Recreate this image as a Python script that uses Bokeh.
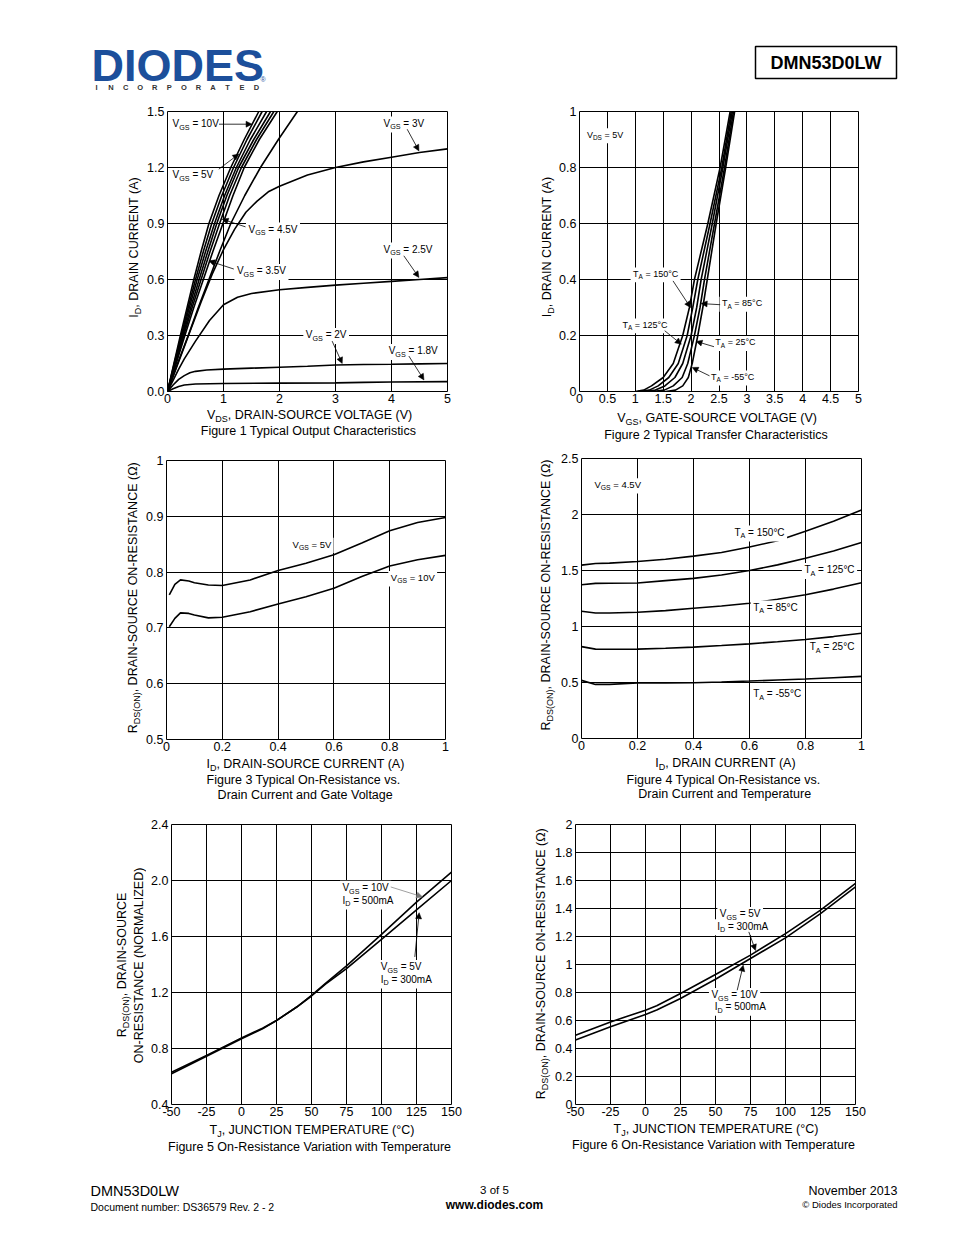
import math
from bokeh.plotting import figure
from bokeh.models import Range1d, FixedTicker, Label, Arrow, NormalHead, BoxAnnotation, Spacer
from bokeh.layouts import column, row
from bokeh.embed import file_html
from bokeh.resources import INLINE

FONT = "Liberation Sans"
BLUE = "#1c4f9b"

# ---------------- Figure 1: output characteristics (ID vs VDS) ----------------
f1_i_levels = [0, 0.15, 0.3, 0.45, 0.6, 0.75, 0.9, 1.05, 1.2, 1.35, 1.5]
f1_v_vgs10 = [0, 0.115, 0.23, 0.35, 0.47, 0.60, 0.74, 0.92, 1.13, 1.37, 1.63]
f1_v_vgs8 = [0, 0.12, 0.245, 0.37, 0.50, 0.64, 0.79, 0.97, 1.18, 1.42, 1.69]
f1_v_vgs6 = [0, 0.13, 0.26, 0.39, 0.53, 0.68, 0.84, 1.02, 1.23, 1.48, 1.77]
f1_v_vgs5 = [0, 0.135, 0.275, 0.415, 0.565, 0.72, 0.88, 1.06, 1.27, 1.54, 1.84]
f1_v_vgs45 = [0, 0.145, 0.29, 0.44, 0.60, 0.76, 0.93, 1.11, 1.32, 1.59, 1.90]
f1_v_vgs4 = [0, 0.155, 0.31, 0.47, 0.64, 0.81, 0.99, 1.17, 1.37, 1.64, 1.96]
f1_v_vgs35 = [0, 0.18, 0.37, 0.55, 0.74, 0.93, 1.13, 1.38, 1.66, 1.98, 2.32]
f1_vds_3v = [0, 0.2, 0.4, 0.6, 0.8, 1.0, 1.2, 1.4, 1.6, 1.8, 2.0, 2.5, 3.0, 3.5, 4.0, 4.5, 5.0]
f1_id_3v = [0, 0.16, 0.32, 0.48, 0.63, 0.76, 0.87, 0.96, 1.02, 1.07, 1.10, 1.16, 1.20, 1.23, 1.255, 1.28, 1.30]
f1_vds_25v = [0, 0.1, 0.2, 0.3, 0.5, 0.75, 1.0, 1.25, 1.5, 2.0, 2.5, 3.0, 3.5, 4.0, 4.5, 5.0]
f1_id_25v = [0, 0.06, 0.12, 0.175, 0.27, 0.38, 0.465, 0.505, 0.525, 0.545, 0.558, 0.57, 0.58, 0.59, 0.60, 0.61]
f1_vds_2v = [0, 0.1, 0.2, 0.3, 0.4, 0.5, 0.7, 1.0, 1.5, 2.0, 2.5, 3.0, 3.5, 4.0, 4.5, 5.0]
f1_id_2v = [0, 0.035, 0.065, 0.085, 0.1, 0.108, 0.115, 0.12, 0.125, 0.13, 0.135, 0.142, 0.145, 0.146, 0.148, 0.15]
f1_vds_18v = [0, 0.1, 0.2, 0.3, 0.5, 1.0, 2.0, 3.0, 3.5, 4.0, 5.0]
f1_id_18v = [0, 0.015, 0.027, 0.035, 0.04, 0.043, 0.045, 0.046, 0.049, 0.051, 0.053]
f1_xticks = [0, 1, 2, 3, 4, 5]
f1_xlabels = ["0", "1", "2", "3", "4", "5"]
f1_yticks = [0, 0.3, 0.6, 0.9, 1.2, 1.5]
f1_ylabels = ["0.0", "0.3", "0.6", "0.9", "1.2", "1.5"]

# ---------------- Figure 2: transfer characteristics (ID vs VGS) ----------------
f2_i_levels = [0, 0.005, 0.02, 0.05, 0.1, 0.2, 0.3, 0.4, 0.6, 0.8, 1.0]
f2_v_150c = [1.0, 1.15, 1.29, 1.50, 1.68, 1.85, 1.97, 2.06, 2.30, 2.52, 2.70]
f2_v_125c = [1.05, 1.25, 1.41, 1.60, 1.77, 1.93, 2.03, 2.12, 2.34, 2.55, 2.72]
f2_v_85c = [1.15, 1.36, 1.53, 1.71, 1.85, 2.00, 2.10, 2.18, 2.38, 2.57, 2.74]
f2_v_25c = [1.30, 1.52, 1.68, 1.84, 1.94, 2.06, 2.16, 2.24, 2.42, 2.60, 2.76]
f2_v_m55c = [1.55, 1.72, 1.85, 1.95, 2.02, 2.12, 2.21, 2.29, 2.45, 2.62, 2.78]
f2_xticks = [0, 0.5, 1, 1.5, 2, 2.5, 3, 3.5, 4, 4.5, 5]
f2_xlabels = ["0", "0.5", "1", "1.5", "2", "2.5", "3", "3.5", "4", "4.5", "5"]
f2_yticks = [0, 0.2, 0.4, 0.6, 0.8, 1.0]
f2_ylabels = ["0", "0.2", "0.4", "0.6", "0.8", "1"]

# ---------------- Figure 3: RDS(ON) vs ID and VGS ----------------
f3_id = [0.01, 0.03, 0.05, 0.08, 0.1, 0.15, 0.2, 0.3, 0.4, 0.5, 0.6, 0.7, 0.8, 0.9, 1.0]
f3_r_vgs5 = [0.759, 0.778, 0.786, 0.784, 0.781, 0.777, 0.776, 0.786, 0.803, 0.816, 0.831, 0.852, 0.874, 0.889, 0.898]
f3_r_vgs10 = [0.702, 0.717, 0.727, 0.726, 0.723, 0.718, 0.719, 0.729, 0.743, 0.756, 0.771, 0.792, 0.811, 0.822, 0.830]
f3_xticks = [0, 0.2, 0.4, 0.6, 0.8, 1.0]
f3_xlabels = ["0", "0.2", "0.4", "0.6", "0.8", "1"]
f3_yticks = [0.5, 0.6, 0.7, 0.8, 0.9, 1.0]
f3_ylabels = ["0.5", "0.6", "0.7", "0.8", "0.9", "1"]

# ---------------- Figure 4: RDS(ON) vs ID and temperature ----------------
f4_id = [0, 0.05, 0.1, 0.2, 0.3, 0.4, 0.5, 0.6, 0.7, 0.8, 0.9, 1.0]
f4_r_150c = [1.548, 1.563, 1.566, 1.58, 1.60, 1.628, 1.66, 1.71, 1.765, 1.85, 1.94, 2.04]
f4_r_125c = [1.373, 1.385, 1.386, 1.388, 1.41, 1.43, 1.46, 1.50, 1.55, 1.61, 1.675, 1.75]
f4_r_85c = [1.136, 1.12, 1.12, 1.127, 1.142, 1.163, 1.183, 1.207, 1.243, 1.284, 1.334, 1.39]
f4_r_25c = [0.82, 0.798, 0.797, 0.798, 0.806, 0.816, 0.83, 0.845, 0.864, 0.884, 0.91, 0.94]
f4_r_m55c = [0.519, 0.483, 0.483, 0.495, 0.497, 0.498, 0.505, 0.513, 0.522, 0.531, 0.543, 0.555]
f4_xticks = [0, 0.2, 0.4, 0.6, 0.8, 1.0]
f4_xlabels = ["0", "0.2", "0.4", "0.6", "0.8", "1"]
f4_yticks = [0, 0.5, 1.0, 1.5, 2.0, 2.5]
f4_ylabels = ["0", "0.5", "1", "1.5", "2", "2.5"]

# ---------------- Figure 5: normalized RDS(ON) vs TJ ----------------
f5_tj = [-50, -25, 0, 15, 25, 40, 50, 60, 75, 100, 125, 150]
f5_r_vgs10 = [0.62, 0.745, 0.87, 0.94, 1.0, 1.1, 1.18, 1.265, 1.39, 1.615, 1.845, 2.06]
f5_r_vgs5 = [0.63, 0.75, 0.875, 0.945, 1.0, 1.1, 1.175, 1.26, 1.37, 1.58, 1.79, 2.0]
f5_xticks = [-50, -25, 0, 25, 50, 75, 100, 125, 150]
f5_xlabels = ["-50", "-25", "0", "25", "50", "75", "100", "125", "150"]
f5_yticks = [0.4, 0.8, 1.2, 1.6, 2.0, 2.4]
f5_ylabels = ["0.4", "0.8", "1.2", "1.6", "2.0", "2.4"]

# ---------------- Figure 6: RDS(ON) vs TJ ----------------
f6_tj = [-50, -25, 0, 8, 25, 50, 75, 100, 125, 150]
f6_r_vgs5 = [0.495, 0.59, 0.674, 0.705, 0.793, 0.929, 1.067, 1.221, 1.388, 1.579]
f6_r_vgs10 = [0.46, 0.555, 0.643, 0.675, 0.757, 0.895, 1.043, 1.19, 1.364, 1.555]
f6_xticks = [-50, -25, 0, 25, 50, 75, 100, 125, 150]
f6_xlabels = ["-50", "-25", "0", "25", "50", "75", "100", "125", "150"]
f6_yticks = [0, 0.2, 0.4, 0.6, 0.8, 1.0, 1.2, 1.4, 1.6, 1.8, 2.0]
f6_ylabels = ["0", "0.2", "0.4", "0.6", "0.8", "1", "1.2", "1.4", "1.6", "1.8", "2"]

# ---------------- text helpers ----------------
AW = {' ': 278, '(': 333, ')': 333, ',': 278, '-': 333, '.': 278, ':': 278, '=': 584,
      '°': 400, 'Ω': 768, '©': 737,
      'A': 667, 'B': 667, 'C': 722, 'D': 722, 'E': 667, 'F': 611, 'G': 778, 'H': 722, 'I': 278,
      'J': 500, 'K': 667, 'L': 556, 'M': 833, 'N': 722, 'O': 778, 'P': 667, 'Q': 778, 'R': 722,
      'S': 667, 'T': 611, 'U': 722, 'V': 667, 'W': 944, 'X': 667, 'Y': 667, 'Z': 611,
      'a': 556, 'b': 556, 'c': 500, 'd': 556, 'e': 556, 'f': 278, 'g': 556, 'h': 556, 'i': 222,
      'j': 222, 'k': 500, 'l': 222, 'm': 833, 'n': 556, 'o': 556, 'p': 556, 'q': 556, 'r': 333,
      's': 500, 't': 278, 'u': 556, 'v': 500, 'w': 722, 'x': 500, 'y': 500, 'z': 500}

PENDING = []


def tw(s, size):
    return sum(AW.get(ch, 556) for ch in s) * size / 1000.0


def rich(p, x, y, parts, size, align="left", vertical=False, from_baseline=True,
         color="black", bg=None):
    """Compose text with subscripts from several Labels (text_baseline='middle')."""
    sub = size * 0.72
    drop = size * 0.24
    total = sum(tw(t, sub if s else size) for t, s in parts)
    start = {"left": 0.0, "center": -total / 2.0, "right": -total}[align]
    base_shift = 0.35 * size if from_baseline else 0.0
    sub_rel = drop + 0.35 * (size - sub)
    if bg is not None:
        sx, sy = bg
        pad = 2.5
        p.add_layout(BoxAnnotation(left=x + (start - pad) * sx, right=x + (start + total + pad) * sx,
                                   bottom=y - (0.32 * size + pad) * sy, top=y + (0.78 * size + pad) * sy,
                                   fill_color="white", fill_alpha=1.0, line_color=None, line_alpha=0))
    pos = start
    for t, s in parts:
        fs = sub if s else size
        lead = len(t) - len(t.lstrip(" "))
        pos += tw(" " * lead, fs)
        tt = t.lstrip(" ")
        kw = dict(x=x, y=y, text=tt, text_font=FONT, text_font_size="%.2fpx" % fs,
                  text_color=color, text_align="left", text_baseline="middle")
        if vertical:
            lab = Label(angle=math.pi / 2, x_offset=-base_shift + (sub_rel if s else 0.0),
                        y_offset=pos, **kw)
        else:
            lab = Label(x_offset=pos, y_offset=base_shift - (sub_rel if s else 0.0), **kw)
        PENDING.append((p, lab))
        pos += tw(tt, fs)


def sub3(a, b, c):
    return [(a, False), (b, True), (c, False)]


def arrow(p, x0, y0, x1, y1, color="black", lw=0.8):
    p.add_layout(Arrow(end=NormalHead(size=6, fill_color=color, line_color=color, line_width=0.5),
                       x_start=x0, y_start=y0, x_end=x1, y_end=y1,
                       line_color=color, line_width=lw))


def chart(w, h, l, r, t, b, xr, yr, xt, xl, yt, yl):
    p = figure(width=w, height=h, x_range=Range1d(*xr), y_range=Range1d(*yr),
               output_backend="svg", toolbar_location=None, tools="",
               min_border_left=l, min_border_right=r, min_border_top=t, min_border_bottom=b)
    p.background_fill_color = "white"
    p.border_fill_color = "white"
    p.outline_line_color = "black"
    p.outline_line_width = 1
    p.outline_line_alpha = 1
    p.xaxis.ticker = FixedTicker(ticks=xt)
    p.yaxis.ticker = FixedTicker(ticks=yt)
    p.xaxis.major_label_overrides = dict(zip(xt, xl))
    p.yaxis.major_label_overrides = dict(zip(yt, yl))
    for ax in (p.xaxis[0], p.yaxis[0]):
        ax.axis_line_color = None
        ax.major_tick_line_color = None
        ax.major_tick_in = 0
        ax.major_tick_out = 0
        ax.minor_tick_line_color = None
        ax.major_label_text_font = FONT
        ax.major_label_text_font_size = "12.5px"
        ax.major_label_text_color = "black"
    p.xaxis.major_label_standoff = 2
    p.yaxis.major_label_standoff = 3
    for g in (p.xgrid[0], p.ygrid[0]):
        g.grid_line_color = "black"
        g.grid_line_width = 1
        g.grid_line_alpha = 1
    return p


def strip(left, top, w, h):
    """Text-only panel whose data coordinates are page pixels (x, -y)."""
    s = figure(width=w, height=h, x_range=Range1d(left, left + w), y_range=Range1d(-(top + h), -top),
               output_backend="svg", toolbar_location=None, tools="",
               x_axis_type=None, y_axis_type=None, min_border=0)
    s.outline_line_color = None
    s.background_fill_color = "white"
    s.border_fill_color = "white"
    return s


def ptext(s, x, y, parts, size=12.5, align="center", vertical=False):
    rich(s, x, -y, parts, size, align=align, vertical=vertical, from_baseline=False)


def plain(s, x, y, text, size, align="left", bold=False, color="black", font=FONT):
    s.add_layout(Label(x=x, y=-y, text=text, text_font=font, text_font_size=size,
                       text_font_style="bold" if bold else "normal", text_color=color,
                       text_align=align, text_baseline="middle"))


LW = 1.6

# ---------------- Figure 1 ----------------
p1 = chart(342, 308, 24, 38, 11, 17, (0, 5), (0, 1.5), f1_xticks, f1_xlabels, f1_yticks, f1_ylabels)
for vv in (f1_v_vgs10, f1_v_vgs8, f1_v_vgs6, f1_v_vgs5, f1_v_vgs45, f1_v_vgs4, f1_v_vgs35):
    p1.line(vv, f1_i_levels, line_color="black", line_width=LW)
p1.line(f1_vds_3v, f1_id_3v, line_color="black", line_width=LW)
p1.line(f1_vds_25v, f1_id_25v, line_color="black", line_width=LW)
p1.line(f1_vds_2v, f1_id_2v, line_color="black", line_width=LW)
p1.line(f1_vds_18v, f1_id_18v, line_color="black", line_width=LW)
s1 = (5 / 280.0, 1.5 / 280.0)
rich(p1, 0.09, 1.415, sub3("V", "GS", " = 10V"), 10, bg=s1)
rich(p1, 0.09, 1.142, sub3("V", "GS", " = 5V"), 10, bg=s1)
rich(p1, 1.446, 0.85, sub3("V", "GS", " = 4.5V"), 10, bg=s1)
rich(p1, 1.24, 0.628, sub3("V", "GS", " = 3.5V"), 10, bg=s1)
rich(p1, 3.857, 1.418, sub3("V", "GS", " = 3V"), 10, bg=s1)
rich(p1, 3.857, 0.743, sub3("V", "GS", " = 2.5V"), 10, bg=s1)
rich(p1, 2.47, 0.285, sub3("V", "GS", " = 2V"), 10, bg=s1)
rich(p1, 3.95, 0.199, sub3("V", "GS", " = 1.8V"), 10, bg=s1)
arrow(p1, 0.92, 1.432, 1.51, 1.432)
arrow(p1, 0.916, 1.191, 1.273, 1.272)
arrow(p1, 1.393, 0.882, 0.977, 0.923)
arrow(p1, 1.184, 0.656, 0.738, 0.70)
arrow(p1, 4.28, 1.405, 4.49, 1.289)
arrow(p1, 4.22, 0.727, 4.49, 0.611)
arrow(p1, 2.94, 0.27, 3.12, 0.15)
arrow(p1, 4.31, 0.19, 4.58, 0.062)
ys1 = strip(8, 100, 135, 308)
ptext(ys1, 133, 249.5, sub3("I", "D", ", DRAIN CURRENT (A)"), vertical=True)
xs1 = strip(8, 408, 477, 42)
ptext(xs1, 310, 414.5, sub3("V", "DS", ", DRAIN-SOURCE VOLTAGE (V)"))
ptext(xs1, 310, 430, [("Figure 1  Typical Output Characteristics", False)])

# ---------------- Figure 2 ----------------
p2 = chart(390, 308, 22, 88, 11, 17, (0, 5), (0, 1), f2_xticks, f2_xlabels, f2_yticks, f2_ylabels)
for vv in (f2_v_150c, f2_v_125c, f2_v_85c, f2_v_25c, f2_v_m55c):
    p2.line(vv, f2_i_levels, line_color="black", line_width=LW)
s2 = (5 / 280.0, 1 / 280.0)
rich(p2, 0.133, 0.906, sub3("V", "DS", " = 5V"), 9, bg=s2)
rich(p2, 0.96, 0.409, sub3("T", "A", " = 150°C"), 9, bg=s2)
rich(p2, 2.553, 0.304, sub3("T", "A", " = 85°C"), 9, bg=s2)
rich(p2, 0.769, 0.227, sub3("T", "A", " = 125°C"), 9, bg=s2)
rich(p2, 2.434, 0.164, sub3("T", "A", " = 25°C"), 9, bg=s2)
rich(p2, 2.358, 0.041, sub3("T", "A", " = -55°C"), 9, bg=s2)
arrow(p2, 1.676, 0.395, 1.99, 0.30)
arrow(p2, 2.52, 0.31, 2.18, 0.314)
arrow(p2, 1.527, 0.217, 1.824, 0.169)
arrow(p2, 2.41, 0.16, 2.09, 0.179)
arrow(p2, 2.33, 0.056, 2.02, 0.086)
ys2 = strip(485, 100, 71, 308)
ptext(ys2, 546, 249, sub3("I", "D", ", DRAIN CURRENT (A)"), vertical=True)
xs2 = strip(485, 408, 461, 42)
ptext(xs2, 718, 417, sub3("V", "GS", ", GATE-SOURCE VOLTAGE (V)"))
ptext(xs2, 718, 434, [("Figure 2  Typical Transfer Characteristics", False)])

# ---------------- Figure 3 ----------------
p3 = chart(342, 306, 22, 40, 10, 17, (0, 1), (0.5, 1), f3_xticks, f3_xlabels, f3_yticks, f3_ylabels)
p3.line(f3_id, f3_r_vgs5, line_color="black", line_width=LW)
p3.line(f3_id, f3_r_vgs10, line_color="black", line_width=LW)
s3 = (1 / 280.0, 0.5 / 279.0)
rich(p3, 0.452, 0.844, sub3("V", "GS", " = 5V"), 9.5, bg=s3)
rich(p3, 0.804, 0.784, sub3("V", "GS", " = 10V"), 9.5, bg=s3)
ys3 = strip(8, 450, 135, 306)
ptext(ys3, 132, 600, sub3("R", "DS(ON)", ", DRAIN-SOURCE ON-RESISTANCE (Ω)"), vertical=True)
xs3 = strip(8, 756, 477, 56)
ptext(xs3, 305, 763.5, sub3("I", "D", ", DRAIN-SOURCE CURRENT (A)"))
ptext(xs3, 305, 779.5, [("Figure 3  Typical On-Resistance vs.", False)])
ptext(xs3, 305, 794, [("Drain Current and Gate Voltage", False)])

# ---------------- Figure 4 ----------------
p4 = chart(390, 305, 25, 85, 8, 17, (0, 1), (0, 2.5), f4_xticks, f4_xlabels, f4_yticks, f4_ylabels)
for rr in (f4_r_150c, f4_r_125c, f4_r_85c, f4_r_25c, f4_r_m55c):
    p4.line(f4_id, rr, line_color="black", line_width=LW)
s4 = (1 / 280.0, 2.5 / 280.0)
rich(p4, 0.046, 2.236, sub3("V", "GS", " = 4.5V"), 9.5, bg=s4)
rich(p4, 0.546, 1.809, sub3("T", "A", " = 150°C"), 10, bg=s4)
rich(p4, 0.796, 1.475, sub3("T", "A", " = 125°C"), 10, bg=s4)
rich(p4, 0.613, 1.141, sub3("T", "A", " = 85°C"), 10, bg=s4)
rich(p4, 0.815, 0.786, sub3("T", "A", " = 25°C"), 10, bg=s4)
rich(p4, 0.613, 0.367, sub3("T", "A", " = -55°C"), 10, bg=s4)
ys4 = strip(485, 450, 71, 305)
ptext(ys4, 545, 598, sub3("R", "DS(ON)", ", DRAIN-SOURCE ON-RESISTANCE (Ω)"), vertical=True)
xs4 = strip(485, 755, 461, 57)
ptext(xs4, 725, 762.5, sub3("I", "D", ", DRAIN CURRENT (A)"))
ptext(xs4, 725, 779, [("Figure 4  Typical On-Resistance vs.", False)])
ptext(xs4, 725, 793.5, [("Drain Current and Temperature", False)])

# ---------------- Figure 5 ----------------
p5 = chart(339, 309, 25, 34, 12, 17, (-50, 150), (0.4, 2.4), f5_xticks, f5_xlabels, f5_yticks, f5_ylabels)
p5.line(f5_tj, f5_r_vgs10, line_color="black", line_width=LW)
p5.line(f5_tj, f5_r_vgs5, line_color="black", line_width=LW)
s5 = (200 / 280.0, 2 / 280.0)
rich(p5, 72.1, 1.924, sub3("V", "GS", " = 10V"), 10, bg=s5)
rich(p5, 72.1, 1.834, sub3("I", "D", " = 500mA"), 10, bg=s5)
rich(p5, 99.5, 1.359, sub3("V", "GS", " = 5V"), 10, bg=s5)
rich(p5, 99.5, 1.27, sub3("I", "D", " = 300mA"), 10, bg=s5)
arrow(p5, 106.6, 1.954, 129.3, 1.883, color="#777777", lw=0.7)
arrow(p5, 123.8, 1.454, 126.9, 1.77)
ys5 = strip(8, 812, 138, 309)
ptext(ys5, 121, 967, sub3("R", "DS(ON)", ", DRAIN-SOURCE"), vertical=True)
ptext(ys5, 138, 967, [("ON-RESISTANCE (NORMALIZED)", False)], vertical=True)
xs5 = strip(8, 1121, 477, 39)
ptext(xs5, 312, 1129.5, sub3("T", "J", ", JUNCTION TEMPERATURE (°C)"))
ptext(xs5, 312, 1146.5, [("Figure 5  On-Resistance Variation with Temperature", False)])

# ---------------- Figure 6 ----------------
p6 = chart(395, 309, 24, 91, 12, 17, (-50, 150), (0, 2), f6_xticks, f6_xlabels, f6_yticks, f6_ylabels)
p6.line(f6_tj, f6_r_vgs5, line_color="black", line_width=LW)
p6.line(f6_tj, f6_r_vgs10, line_color="black", line_width=LW)
s6 = (200 / 280.0, 2 / 280.0)
rich(p6, 53.1, 1.338, sub3("V", "GS", " = 5V"), 10, bg=s6)
rich(p6, 51.2, 1.249, sub3("I", "D", " = 300mA"), 10, bg=s6)
rich(p6, 47.1, 0.759, sub3("V", "GS", " = 10V"), 10, bg=s6)
rich(p6, 49.5, 0.674, sub3("I", "D", " = 500mA"), 10, bg=s6)
arrow(p6, 73.8, 1.233, 78.6, 1.10)
arrow(p6, 65.5, 0.816, 69.8, 0.995)
ys6 = strip(485, 812, 66, 309)
ptext(ys6, 540, 965, sub3("R", "DS(ON)", ", DRAIN-SOURCE ON-RESISTANCE (Ω)"), vertical=True)
xs6 = strip(485, 1121, 461, 39)
ptext(xs6, 716, 1128, sub3("T", "J", ", JUNCTION TEMPERATURE (°C)"))
ptext(xs6, 716, 1144.5, [("Figure 6  On-Resistance Variation with Temperature", False)])

# ---------------- header ----------------
hdr = strip(8, 8, 938, 92)
plain(hdr, 91, 65, "DIODES", "45px", bold=True, color=BLUE)
for k, ch in enumerate("INCORPORATED"):
    plain(hdr, 96 + k * 14.55, 87, ch, "7.5px", align="center", bold=True, color="#333333")
plain(hdr, 260, 79, "®", "7px", color=BLUE)
hdr.quad(left=[755], right=[896], bottom=[-78], top=[-46], fill_color=None,
         line_color="black", line_width=1.5)
plain(hdr, 825.5, 62, "DMN53D0LW", "18px", align="center", bold=True)

# ---------------- footer ----------------
ftr = strip(8, 1160, 938, 67)
plain(ftr, 90, 1190, "DMN53D0LW", "14.5px")
plain(ftr, 90, 1206, "Document number: DS36579 Rev. 2 - 2", "10.5px")
plain(ftr, 494, 1189, "3 of 5", "11.5px", align="center")
plain(ftr, 494, 1204, "www.diodes.com", "12px", align="center", bold=True)
plain(ftr, 897, 1190, "November 2013", "12.5px", align="right")
plain(ftr, 897, 1204, "© Diodes Incorporated", "9.5px", align="right")

# text labels go on top of their white boxes
for fig, lab in PENDING:
    fig.add_layout(lab)


def block(ys, ch, xs):
    return column(row(ys, ch, spacing=0), xs, spacing=0)


body = column(hdr,
              row(block(ys1, p1, xs1), block(ys2, p2, xs2), spacing=0),
              row(block(ys3, p3, xs3), block(ys4, p4, xs4), spacing=0),
              row(block(ys5, p5, xs5), block(ys6, p6, xs6), spacing=0),
              ftr, spacing=0)
root = column(Spacer(width=946, height=8),
              row(Spacer(width=8, height=10), body, spacing=0),
              spacing=0)

open("out.html", "w").write(file_html(root, INLINE))
